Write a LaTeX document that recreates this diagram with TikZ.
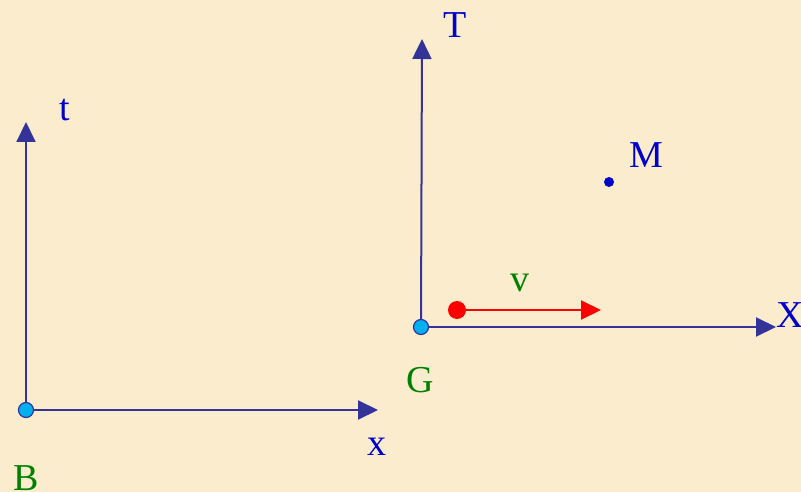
\documentclass[tikz,border=0pt]{standalone}
\usepackage{fontspec}
\setmainfont{Liberation Serif}
\usetikzlibrary{arrows.meta}
\definecolor{paper}{RGB}{250,236,204}
\definecolor{axisblue}{RGB}{51,51,153}
\definecolor{dotblue}{RGB}{0,176,240}
\definecolor{labelblue}{RGB}{0,0,204}
\definecolor{labelgreen}{RGB}{0,128,0}
\tikzset{
  axis/.style={axisblue, line width=2pt, -{Triangle[length=20pt,width=19pt]}},
  origin/.style={fill=dotblue, draw=axisblue, line width=1.2pt},
  lbl/.style={font=\fontsize{38}{44}\selectfont, inner sep=0pt, text=labelblue},
  glbl/.style={lbl, text=labelgreen}
}

\begin{document}
\begin{tikzpicture}[x=1pt,y=-1pt]
\useasboundingbox (0,0) rectangle (801,492);
\fill[paper] (0,0) rectangle (801,492);
% frame B
\coordinate (B) at (26,410);
\coordinate (Btip) at (26,122);
\coordinate (xtip) at (378,410);
\draw[axis] (B) -- (Btip);
\draw[axis] (B) -- (xtip);
\draw[origin] (B) circle (7.5);
\node[lbl] (tlab) at (65,110) {t};
\node[lbl] (xlab) at (377,447) {x};
\node[glbl] (Blab) at (26,478) {B};
% frame G
\coordinate (G) at (421,327);
\coordinate (Ttip) at (422,39);
\coordinate (Xtip) at (776,327);
\draw[axis] (G) -- (Ttip);
\draw[axis] (G) -- (Xtip);
\draw[origin] (G) circle (7.5);
\node[lbl] (Tlab) at (455,25) {T};
\node[lbl] (Xlab) at (790,315) {X};
\node[glbl] (Glab) at (420,380) {G};
% point M
\coordinate (M) at (609,182);
\fill[labelblue] (M) circle (5);
\node[lbl] (Mlab) at (646,155) {M};
% velocity
\coordinate (vstart) at (457,310);
\coordinate (vtip) at (601,310);
\draw[red, line width=2pt, -{Triangle[length=20pt,width=19pt]}] (vstart) -- (vtip);
\fill[red] (vstart) circle (9);
\node[glbl] (vlab) at (520,283) {v};
\end{tikzpicture}
\end{document}
